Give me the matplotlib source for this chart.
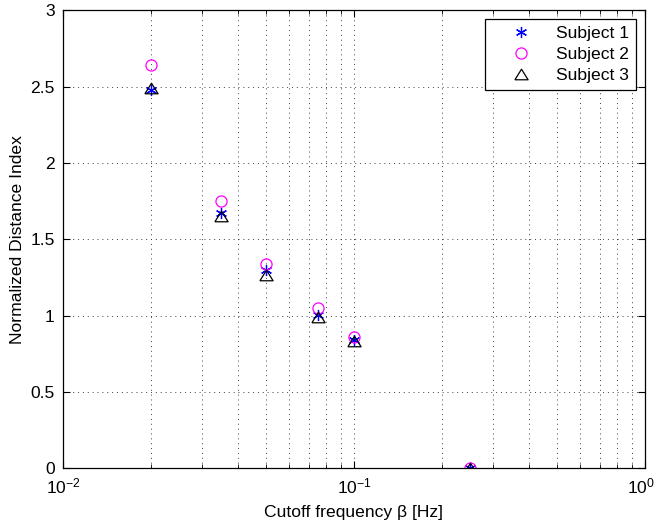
import matplotlib
matplotlib.use("Agg")
import matplotlib.pyplot as plt
import matplotlib.transforms as mtransforms
from matplotlib.ticker import LogLocator, NullFormatter

plt.rcParams['font.family'] = ['Liberation Sans', 'DejaVu Sans']
plt.rcParams['mathtext.fontset'] = 'custom'
plt.rcParams['mathtext.rm'] = 'Liberation Sans'
plt.rcParams['mathtext.it'] = 'Liberation Sans:italic'
plt.rcParams['mathtext.bf'] = 'Liberation Sans:bold'

freq = [0.02, 0.035, 0.05, 0.075, 0.1, 0.25]
subj1 = [2.475, 1.672, 1.296, 1.005, 0.84, 0.005]
subj2 = [2.642, 1.753, 1.339, 1.049, 0.862, 0.005]
subj3 = [2.49, 1.65, 1.267, 0.99, 0.834, 0.005]
labels = ['Subject 1', 'Subject 2', 'Subject 3']

FS = 12.6

fig = plt.figure(figsize=(6.57, 5.25), dpi=100)
ax = fig.add_axes([63 / 657, (525 - 468.3) / 525, 582 / 657, 458 / 525])

tri = [(-1, -0.8), (1, -0.8), (0, 0.8), (-1, -0.8)]

ax.plot(freq, subj1, linestyle='none', marker=(6, 2, 0), markersize=8,
        markeredgecolor='blue', markeredgewidth=0.9, color='blue', label=labels[0])
ax.plot(freq, subj2, linestyle='none', marker='o', markersize=8,
        markerfacecolor='none', markeredgecolor='magenta', markeredgewidth=0.9, label=labels[1])
ax.plot(freq, subj3, linestyle='none', marker=tri, markersize=9.5,
        markerfacecolor='none', markeredgecolor='black', markeredgewidth=0.9, label=labels[2])

ax.set_xscale('log')
ax.set_xlim(1e-2, 1e0)
ax.set_ylim(0, 3)
ax.set_xticks([1e-2, 1e-1, 1e0])
ax.set_xticklabels([r'$\mathdefault{10^{-2}}$', r'$\mathdefault{10^{-1}}$', r'$\mathdefault{10^{0}}$'])
ax.set_yticks([0, 0.5, 1, 1.5, 2, 2.5, 3])
ax.set_yticklabels(['0', '0.5', '1', '1.5', '2', '2.5', '3'])
ax.xaxis.set_minor_locator(LogLocator(base=10, subs=range(2, 10)))
ax.xaxis.set_minor_formatter(NullFormatter())

ax.grid(True, which='major', linestyle=(0, (1, 4)), color='#404040', linewidth=0.7)
ax.grid(True, which='minor', axis='x', linestyle=(0, (1, 4)), color='#404040', linewidth=0.7)
ax.tick_params(which='both', direction='in', top=True, right=True, labelsize=FS)
ax.tick_params(which='major', length=5, pad=6)
ax.tick_params(which='minor', length=3)
for s in ax.spines.values():
    s.set_linewidth(0.9)

# nudge the last x tick label slightly left so it stays inside the figure
last = ax.get_xticklabels()[-1]
last.set_transform(last.get_transform() +
                   mtransforms.ScaledTranslation(-3 / 72, 0, fig.dpi_scale_trans))

ax.set_xlabel('Cutoff frequency β [Hz]', fontsize=FS, labelpad=6)
ax.set_ylabel('Normalized Distance Index', fontsize=FS, labelpad=4)

leg = ax.legend(loc='upper right', fontsize=FS, frameon=True, fancybox=False,
                edgecolor='black', framealpha=1, handlelength=3.4,
                handletextpad=0.3, borderpad=0.4,
                borderaxespad=0.5, labelspacing=0.31)
leg.get_frame().set_linewidth(0.9)

fig.savefig('out.png', dpi=100)
